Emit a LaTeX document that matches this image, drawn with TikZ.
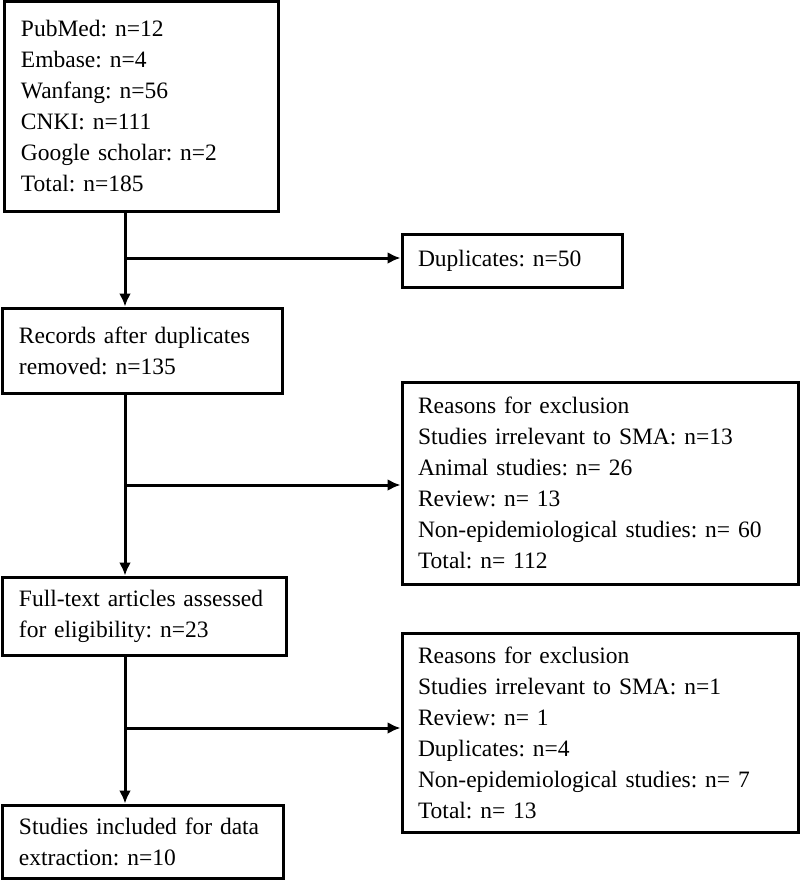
\documentclass[tikz,border=0pt]{standalone}
\usepackage{fontspec}
\setmainfont{Liberation Serif}
\usepackage{tikz}
\usetikzlibrary{positioning, calc, arrows.meta}
\frenchspacing

\begin{document}
\begin{tikzpicture}[
    x = 1bp, y = -1bp,
    > = {Latex[length = 13bp, width = 12bp]},
    box/.style = {rectangle, draw, line width = 3bp, align = left, inner xsep = 16bp, inner ysep = 0pt,
                  font = \fontsize{23.5bp}{31bp}\selectfont},
    path/.style = {->, line width = 3bp},
    ]
    \useasboundingbox (0,0) rectangle (800,881);

    % main column
    \node [box, text width = 241bp, minimum height = 209bp] (search) at (141.5,106.5)
        {PubMed: n=12\\Embase: n=4\\Wanfang: n=56\\CNKI: n=111\\Google scholar: n=2\\Total: n=185};
    \node [box, text width = 247bp, minimum height = 85bp] (records) at (142.5,350.5)
        {Records after duplicates\\removed: n=135};
    \node [box, text width = 251bp, minimum height = 78bp] (fulltext) at (144.5,616)
        {Full-text articles assessed\\for eligibility: n=23};
    \node [box, text width = 248bp, minimum height = 73bp] (included) at (143,841.5)
        {Studies included for data\\extraction: n=10};

    % excluded records
    \node [box, text width = 188bp, minimum height = 53bp] (dup) at (512,260.5)
        {Duplicates: n=50};
    \node [box, text width = 364bp, minimum height = 202bp] (excl_a) at (600,483)
        {Reasons for exclusion\\Studies irrelevant to SMA: n=13\\Animal studies: n= 26\\Review: n= 13\\Non-epidemiological studies: n= 60\\Total: n= 112};
    \node [box, text width = 364bp, minimum height = 199bp] (excl_b) at (600,732.5)
        {Reasons for exclusion\\Studies irrelevant to SMA: n=1\\Review: n= 1\\Duplicates: n=4\\Non-epidemiological studies: n= 7\\Total: n= 13};

    % branch points on the trunk
    \coordinate (trunk) at (125,0);
    \coordinate (br_a) at (125,258);
    \coordinate (br_b) at (125,485);
    \coordinate (br_c) at (125,728);

    \draw [path] (search.south -| trunk) -- (records.north -| trunk);
    \draw [path] (records.south -| trunk) -- (fulltext.north -| trunk);
    \draw [path] (fulltext.south -| trunk) -- (included.north -| trunk);

    \draw [path] (br_a) -- (br_a -| dup.west);
    \draw [path] (br_b) -- (br_b -| excl_a.west);
    \draw [path] (br_c) -- (br_c -| excl_b.west);
\end{tikzpicture}
\end{document}
